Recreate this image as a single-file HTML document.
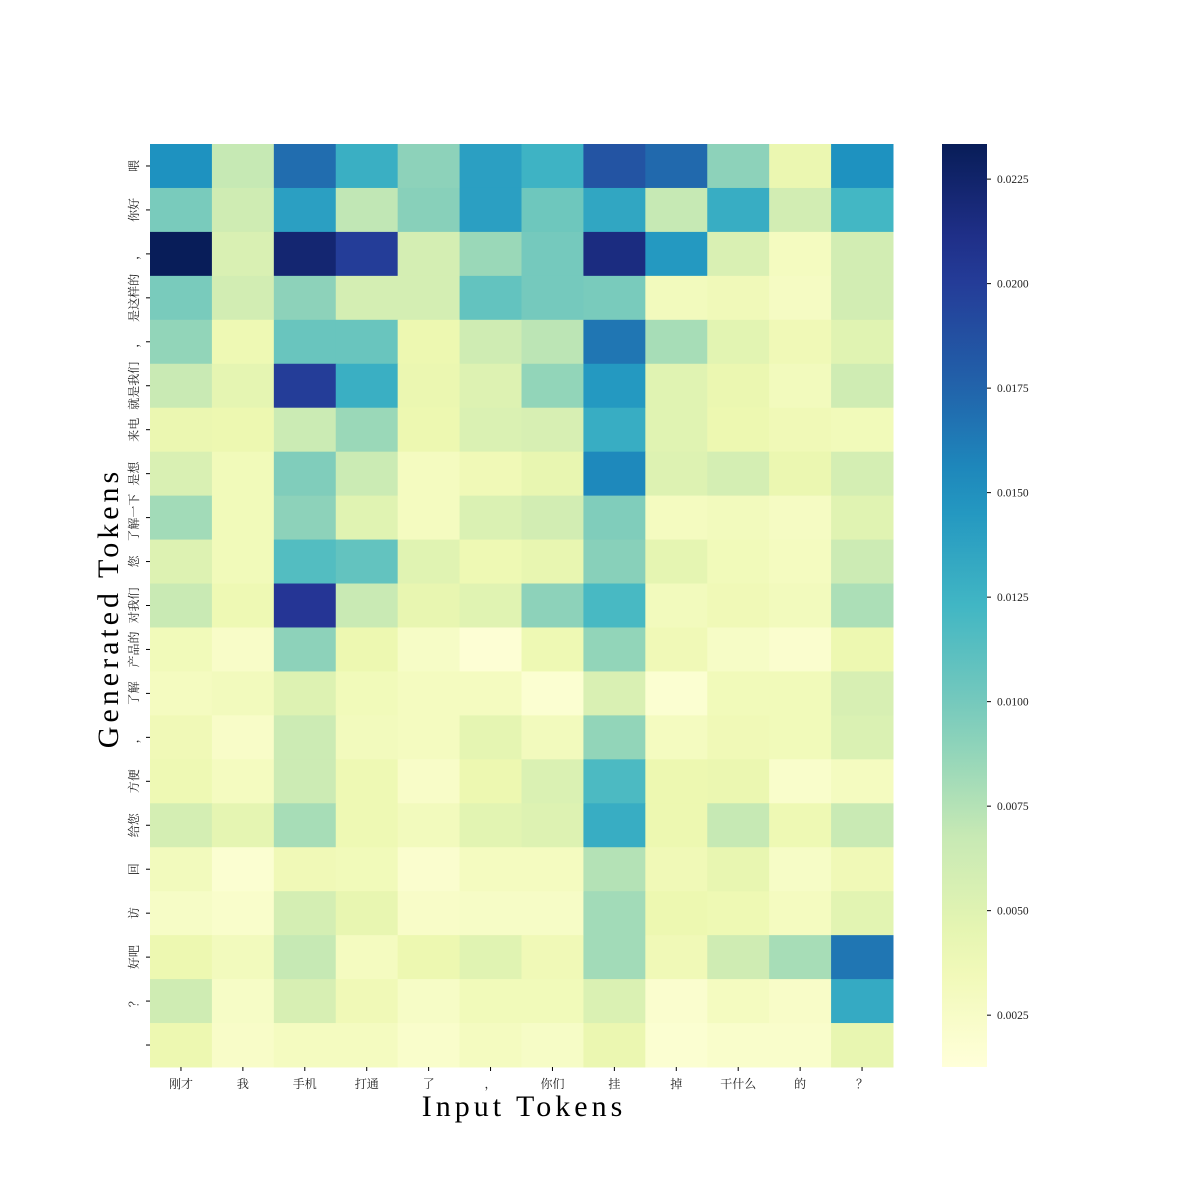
<!DOCTYPE html>
<html><head><meta charset="utf-8"><style>
body{margin:0;background:#fff}
svg{display:block}
.tk{font-family:"Liberation Serif","Noto Serif CJK SC","Noto Sans CJK SC",serif;font-size:12px;fill:#222}
.ttl{font-family:"Liberation Serif",serif;font-size:30px;fill:#000;letter-spacing:4px}
.cb{font-family:"Liberation Serif",serif;font-size:11.5px;fill:#222}
</style></head><body>
<svg id="chart" width="1200" height="1200" viewBox="0 0 1200 1200" xmlns="http://www.w3.org/2000/svg">
<g id="cells"></g>
<g id="xt"></g>
<g id="yt"></g>
<text class="ttl" x="524" y="1116" text-anchor="middle">Input Tokens</text>
<text class="ttl" transform="translate(118,608) rotate(-90)" text-anchor="middle">Generated Tokens</text>
<defs><linearGradient id="cg" x1="0" y1="1" x2="0" y2="0"></linearGradient></defs>
<rect x="942" y="144" width="45" height="923" fill="url(#cg)"/>
<g id="cbt"></g>
</svg>
<script>
const xLabels=["刚才","我","手机","打通","了","，","你们","挂","掉","干什么","的","？"];
const yLabels=["喂","你好","，","是这样的","，","就是我们","来电","是想","了解一下","您","对我们","产品的","了解","，","方便","给您","回","访","好吧","？",""];
const cbTicks=[0.0025,0.005,0.0075,0.01,0.0125,0.015,0.0175,0.02,0.0225];
const vmin=0.00126, vmax=0.02334;
const r0=[0.0150,0.0068,0.0170,0.0128,0.0090,0.0140,0.0125,0.0185,0.0172,0.0090,0.0042,0.0150];
const r1=[0.0098,0.0062,0.0140,0.0070,0.0092,0.0140,0.0103,0.0135,0.0068,0.0130,0.0060,0.0122];
const r2=[0.0233,0.0055,0.0222,0.0200,0.0058,0.0085,0.0100,0.0215,0.0145,0.0055,0.0030,0.0060];
const r3=[0.0098,0.0060,0.0090,0.0058,0.0058,0.0108,0.0100,0.0098,0.0032,0.0035,0.0028,0.0060];
const r4=[0.0088,0.0038,0.0105,0.0105,0.0040,0.0062,0.0072,0.0165,0.0080,0.0048,0.0036,0.0050];
const r5=[0.0066,0.0046,0.0200,0.0128,0.0042,0.0052,0.0088,0.0145,0.0050,0.0042,0.0032,0.0062];
const r6=[0.0042,0.0040,0.0065,0.0085,0.0040,0.0054,0.0056,0.0130,0.0050,0.0040,0.0036,0.0034];
const r7=[0.0055,0.0034,0.0095,0.0065,0.0030,0.0036,0.0044,0.0155,0.0052,0.0058,0.0042,0.0058];
const r8=[0.0082,0.0034,0.0090,0.0050,0.0030,0.0054,0.0060,0.0095,0.0030,0.0032,0.0028,0.0050];
const r9=[0.0052,0.0034,0.0115,0.0108,0.0050,0.0038,0.0044,0.0092,0.0046,0.0034,0.0030,0.0064];
const r10=[0.0066,0.0038,0.0205,0.0066,0.0044,0.0050,0.0090,0.0120,0.0032,0.0036,0.0032,0.0078];
const r11=[0.0034,0.0024,0.0090,0.0040,0.0026,0.0016,0.0038,0.0088,0.0036,0.0026,0.0020,0.0040];
const r12=[0.0030,0.0032,0.0052,0.0034,0.0030,0.0030,0.0018,0.0055,0.0018,0.0034,0.0034,0.0056];
const r13=[0.0036,0.0024,0.0064,0.0032,0.0030,0.0046,0.0032,0.0088,0.0030,0.0036,0.0034,0.0054];
const r14=[0.0038,0.0030,0.0064,0.0038,0.0024,0.0040,0.0054,0.0118,0.0040,0.0042,0.0022,0.0030];
const r15=[0.0058,0.0046,0.0080,0.0038,0.0032,0.0048,0.0052,0.0130,0.0040,0.0068,0.0038,0.0066];
const r16=[0.0032,0.0018,0.0036,0.0034,0.0020,0.0030,0.0030,0.0075,0.0036,0.0044,0.0026,0.0036];
const r17=[0.0026,0.0022,0.0058,0.0044,0.0024,0.0026,0.0026,0.0082,0.0040,0.0038,0.0030,0.0048];
const r18=[0.0040,0.0032,0.0068,0.0030,0.0040,0.0050,0.0036,0.0082,0.0036,0.0062,0.0080,0.0165];
const r19=[0.0062,0.0026,0.0056,0.0036,0.0026,0.0034,0.0034,0.0054,0.0020,0.0030,0.0024,0.0132];
const r20=[0.0040,0.0024,0.0030,0.0030,0.0022,0.0030,0.0026,0.0042,0.0018,0.0022,0.0022,0.0044];
const values=[r0,r1,r2,r3,r4,r5,r6,r7,r8,r9,r10,r11,r12,r13,r14,r15,r16,r17,r18,r19,r20];

const stops=["#ffffd9","#edf8b1","#c7e9b4","#7fcdbb","#41b6c4","#1d91c0","#225ea8","#253494","#081d58"];
function hex(h){return [1,3,5].map(i=>parseInt(h.substr(i,2),16));}
function cmap(v){let t=Math.max(0,Math.min(1,(v-vmin)/(vmax-vmin)))*(stops.length-1);let i=Math.min(stops.length-2,Math.floor(t)),f=t-i;const a=hex(stops[i]),b=hex(stops[i+1]);return "rgb("+a.map((c,k)=>Math.round(c+(b[k]-c)*f)).join(",")+")";}
const X0=150,X1=893,Y0=144,Y1=1067;
const cw=(X1-X0)/xLabels.length, ch=(Y1-Y0)/yLabels.length;
const xPos=i=>X0+i*cw, yPos=j=>Y0+j*ch;
const NS="http://www.w3.org/2000/svg";
function mk(tag,attrs,parent){const e=document.createElementNS(NS,tag);for(const k in attrs)e.setAttribute(k,attrs[k]);parent.appendChild(e);return e;}
const cells=document.getElementById('cells');
values.forEach((row,j)=>row.forEach((v,i)=>{
  const r=mk('rect',{x:xPos(i),y:yPos(j),width:cw+0.5,height:ch+0.5,fill:cmap(v)},cells);
  
  
}));
const xt=document.getElementById('xt');
xLabels.forEach((l,i)=>{
  const cx=xPos(i)+cw/2;
  mk('line',{x1:cx,x2:cx,y1:Y1,y2:Y1+4,stroke:'#000','stroke-width':1},xt);
  const t=mk('text',{x:cx,y:Y1+21,'text-anchor':'middle',class:'tk'},xt);
  
  
  t.textContent=l;
});
const yt=document.getElementById('yt');
yLabels.forEach((l,j)=>{
  const cy=yPos(j)+ch/2;
  mk('line',{x1:X0-4,x2:X0,y1:cy,y2:cy,stroke:'#000','stroke-width':1},yt);
  const t=mk('text',{transform:`translate(138,${cy}) rotate(-90)`,'text-anchor':'middle',class:'tk'},yt);
  
  
  t.textContent=l;
});
const g=document.getElementById('cg');
for(let k=0;k<=20;k++){const v=vmin+(vmax-vmin)*k/20;mk('stop',{offset:(k*5)+'%','stop-color':cmap(v)},g);}
const cbt=document.getElementById('cbt');
cbTicks.forEach(v=>{
  const y=Y1-(v-vmin)/(vmax-vmin)*(Y1-Y0);
  mk('line',{x1:987,x2:991,y1:y,y2:y,stroke:'#000','stroke-width':1},cbt);
  const t=mk('text',{x:997,y:y+4,class:'cb'},cbt);
  
  
  t.textContent=v.toFixed(4);
});
</script>
</body></html>
